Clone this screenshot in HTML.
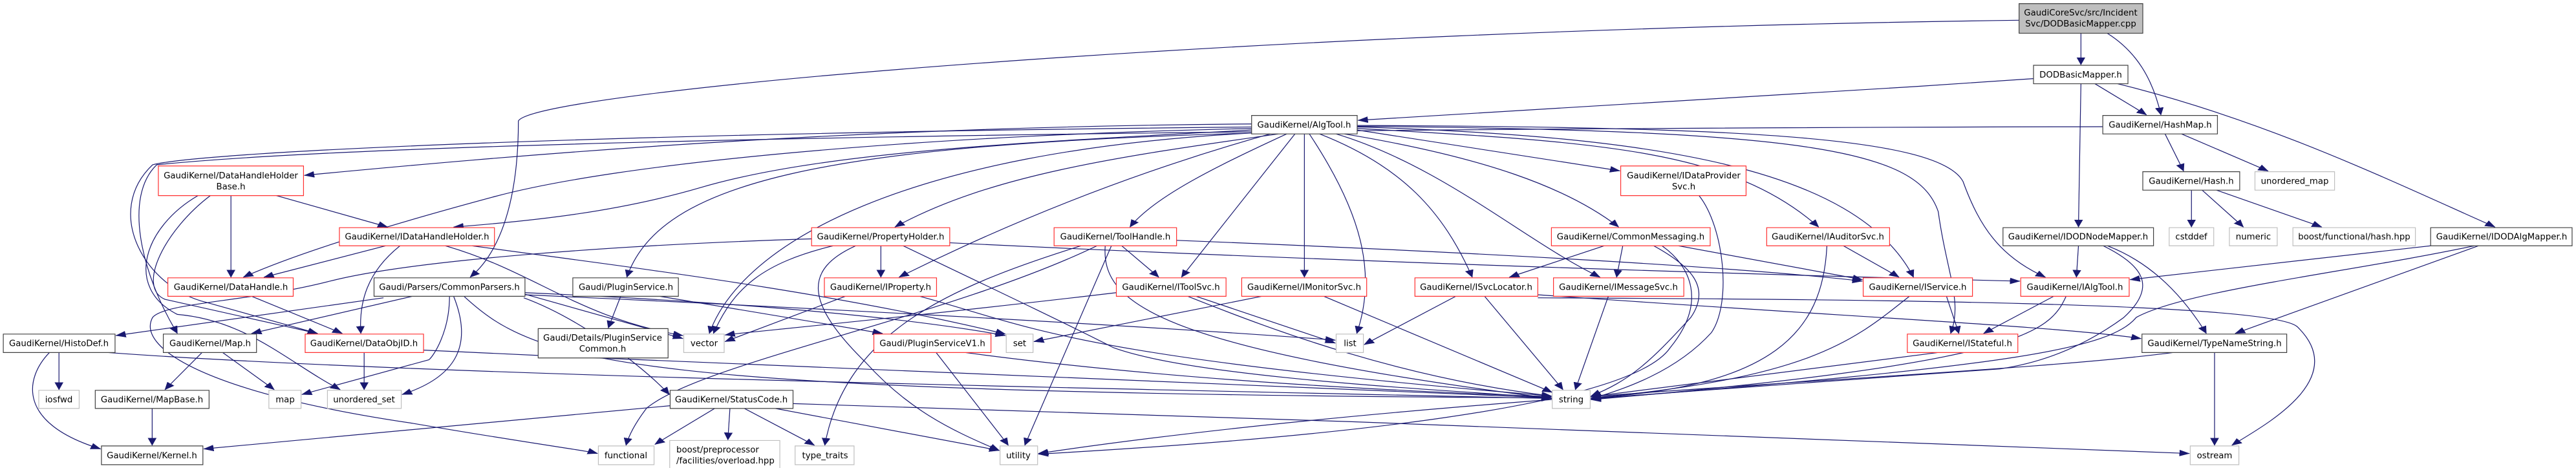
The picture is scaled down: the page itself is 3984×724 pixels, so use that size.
<!DOCTYPE html>
<html><head><meta charset="utf-8"><style>
html,body{margin:0;padding:0;background:#fff;}
svg{display:block;}
text{font-family:"DejaVu Sans","Liberation Sans",sans-serif;font-size:13.3px;fill:#000;text-anchor:middle;}
.s rect{fill:#fff;stroke-width:1.2;vector-effect:non-scaling-stroke;}
.b{stroke:#404040;} .r{stroke:#ff3030;} .g{stroke:#bfbfbf;}
.e path{fill:none;stroke:#191970;stroke-width:1.2;vector-effect:non-scaling-stroke;marker-end:url(#a);}
</style></head><body>
<svg width="3984" height="724" viewBox="0 0 3984 724" xmlns="http://www.w3.org/2000/svg">
<defs><marker id="a" markerUnits="userSpaceOnUse" markerWidth="26" markerHeight="22" refX="24" refY="11" orient="auto" viewBox="0 0 26 22"><polygon points="0,1 24,11 0,21" fill="#191970" stroke="#191970"/></marker></defs>
<g transform="scale(0.6378,0.4677)">
<g class="e">
<path d="M5046 110 L5046 214"/>
<path d="M5110 110 C5180 170 5220 260 5240 380"/>
<path d="M4896 67 C3000 100 1300 300 1257 400 C1257 700 1200 850 1140 917"/>
<path d="M4931 260 C4300 320 3600 370 3293 398"/>
<path d="M5080 277 L5205 380"/>
<path d="M5046 277 L5040 751"/>
<path d="M5135 277 C5500 400 5800 600 6050 751"/>
<path d="M5250 443 L5295 566"/>
<path d="M5290 443 L5500 566"/>
<path d="M5099 419 C3000 425 1000 460 380 545 C300 650 340 900 430 1103"/>
<path d="M5314 629 L5314 751"/>
<path d="M5340 629 L5440 751"/>
<path d="M5375 629 L5630 751"/>
<path d="M5040 813 L5035 917"/>
<path d="M5100 813 C5200 880 5230 950 5150 1050 C5050 1150 4950 1200 4850 1220 L3858 1318"/>
<path d="M5110 813 C5200 860 5280 950 5350 1103"/>
<path d="M5894 813 L5165 925"/>
<path d="M6000 813 C5700 900 5300 960 5180 1050 C5120 1150 4900 1210 3858 1320"/>
<path d="M6010 813 L5420 1103"/>
<path d="M4980 980 L4810 1103"/>
<path d="M5010 980 C4970 1100 4900 1200 3858 1322"/>
<path d="M4720 980 L4750 1103"/>
<path d="M4630 980 C4500 1120 4400 1250 3858 1316"/>
<path d="M4700 1166 L3858 1312"/>
<path d="M5370 1166 L5370 1473"/>
<path d="M5270 1166 C4800 1250 3500 1300 2518 1500"/>
<path d="M3035 410 C2000 420 1200 520 738 580"/>
<path d="M3035 430 C2500 470 2000 500 1700 620 C1500 700 1300 730 1100 751"/>
<path d="M3035 425 C2200 450 1500 540 1200 650 C900 760 700 850 590 917"/>
<path d="M3035 420 C1500 440 500 500 370 545 C250 700 350 950 500 1000 L770 1103"/>
<path d="M3035 440 C2000 480 1600 600 1520 917"/>
<path d="M3100 443 C2700 520 2400 580 2170 751"/>
<path d="M3080 443 C2800 550 2500 700 2180 917"/>
<path d="M3120 443 C2950 550 2800 650 2740 751"/>
<path d="M3140 443 L2865 917"/>
<path d="M3163 443 L3163 917"/>
<path d="M3175 443 C3300 700 3340 900 3290 1103"/>
<path d="M3200 443 C3400 550 3500 700 3570 917"/>
<path d="M3240 443 C3500 550 3700 800 3880 917"/>
<path d="M3260 443 C3600 520 3800 620 3925 751"/>
<path d="M3291 430 L3928 565"/>
<path d="M3291 425 C3900 470 4200 500 4410 751"/>
<path d="M3291 420 C4000 450 4500 550 4640 917"/>
<path d="M3291 418 C4400 430 4650 500 4700 700 C4720 900 4760 1000 4730 1103"/>
<path d="M3291 415 C4200 420 4700 450 4760 600 C4800 750 4850 850 4960 917"/>
<path d="M3035 440 C2200 500 1800 800 1720 1103"/>
<path d="M1625 1342 L494 1485"/>
<path d="M560 647 L560 917"/>
<path d="M670 647 L940 751"/>
<path d="M510 647 C400 760 330 950 400 990 L770 1103"/>
<path d="M480 647 C350 750 300 950 430 1040 C600 1060 700 1200 825 1289"/>
<path d="M935 813 L640 917"/>
<path d="M970 813 C890 900 870 1000 875 1103"/>
<path d="M1080 813 C1300 900 1400 1050 1656 1110"/>
<path d="M1145 813 C1500 880 2000 960 2438 1105"/>
<path d="M610 980 L830 1103"/>
<path d="M930 985 L281 1110"/>
<path d="M1000 980 L610 1103"/>
<path d="M1090 980 C1090 1100 1050 1180 1040 1190 L732 1305"/>
<path d="M1100 980 C1150 1150 1100 1250 975 1305"/>
<path d="M1270 972 L1656 1120"/>
<path d="M1270 985 C1400 1050 1550 1200 1623 1305"/>
<path d="M1125 980 C1300 1200 1500 1300 3762 1316"/>
<path d="M1273 968 C1800 1000 2200 1050 2438 1110"/>
<path d="M1273 975 C2000 1020 2800 1080 3238 1125"/>
<path d="M1505 980 L1475 1085"/>
<path d="M1600 980 L2140 1103"/>
<path d="M143 1166 L143 1289"/>
<path d="M120 1166 C60 1250 40 1400 244 1485"/>
<path d="M260 1166 C1000 1240 2500 1280 3762 1318"/>
<path d="M490 1166 L400 1289"/>
<path d="M540 1166 L665 1289"/>
<path d="M369 1351 L369 1473"/>
<path d="M883 1166 L883 1289"/>
<path d="M1027 1158 C2000 1220 3000 1280 3762 1316"/>
<path d="M1733 1351 L1588 1470"/>
<path d="M2136 813 L2136 917"/>
<path d="M2020 813 C1850 870 1780 950 1730 1103"/>
<path d="M2075 813 C1950 890 1950 1000 2100 1200 C2200 1350 2300 1420 2423 1490"/>
<path d="M2190 813 C2400 950 2600 1080 2700 1150 C2900 1250 3500 1290 3762 1316"/>
<path d="M2303 803 C3000 850 4000 900 4898 930"/>
<path d="M1968 790 C1500 810 1000 860 800 930 C600 1000 400 1000 370 1050 C330 1150 500 1300 1000 1400 C1300 1470 1420 1490 1449 1500"/>
<path d="M2050 980 L1758 1130"/>
<path d="M2230 980 C2500 1080 2600 1180 3762 1310"/>
<path d="M2853 795 C3500 830 4200 880 4516 930"/>
<path d="M2720 813 L2810 917"/>
<path d="M2621 813 C2300 950 2050 1100 2000 1473"/>
<path d="M2660 813 C2300 1050 1700 1200 1568 1350 C1540 1400 1525 1440 1518 1473"/>
<path d="M2695 813 L2485 1473"/>
<path d="M2680 813 C2670 1000 2800 1150 3762 1318"/>
<path d="M2707 968 C2200 1050 1800 1100 1758 1108"/>
<path d="M2880 980 C3100 1100 3400 1250 3762 1310"/>
<path d="M2900 980 L3238 1135"/>
<path d="M3060 980 L2507 1130"/>
<path d="M3210 980 L3764 1298"/>
<path d="M3530 980 L3308 1140"/>
<path d="M3600 980 L3790 1289"/>
<path d="M3729 975 C4500 1050 5000 1080 5192 1120"/>
<path d="M3900 980 L3820 1289"/>
<path d="M3890 813 L3660 917"/>
<path d="M3935 813 L3920 917"/>
<path d="M4010 813 C4100 880 4150 950 4100 1050 C4000 1200 3950 1260 3858 1310"/>
<path d="M4030 813 C4100 880 4140 1000 4050 1150 C3950 1350 3200 1450 2518 1502"/>
<path d="M4070 813 L4516 925"/>
<path d="M4120 647 C4180 750 4200 1000 4150 1100 C4050 1250 3900 1300 3858 1320"/>
<path d="M4430 813 C4420 1100 4300 1280 3858 1316"/>
<path d="M4470 813 L4605 917"/>
<path d="M3729 985 C4500 990 5500 1000 5570 1080 C5700 1250 5500 1400 5412 1473"/>
<path d="M1923 1335 C3000 1380 4500 1450 5309 1500"/>
<path d="M2270 1166 L2445 1473"/>
<path d="M2340 1166 C2800 1250 3300 1290 3762 1312"/>
<path d="M1770 1351 L1765 1455"/>
<path d="M1805 1351 L1975 1473"/>
<path d="M1880 1351 L2423 1490"/>
</g>
<g class="s">
<rect x="4896" y="12" width="300" height="98" class="b" style="fill:#bfbfbf"/>
<rect x="4931" y="216" width="229" height="61" class="b"/>
<rect x="5099" y="382" width="278" height="61" class="b"/>
<rect x="5196" y="568" width="235" height="61" class="b"/>
<rect x="5468" y="568" width="193" height="61" class="g"/>
<rect x="4857" y="753" width="365" height="60" class="b"/>
<rect x="5260" y="753" width="108" height="60" class="g"/>
<rect x="5406" y="753" width="116" height="60" class="g"/>
<rect x="5560" y="753" width="297" height="60" class="g"/>
<rect x="5894" y="753" width="343" height="60" class="b"/>
<rect x="4900" y="919" width="263" height="61" class="r"/>
<rect x="4625" y="1105" width="268" height="61" class="r"/>
<rect x="5194" y="1105" width="351" height="61" class="b"/>
<rect x="5311" y="1475" width="118" height="62" class="g"/>
<rect x="4518" y="919" width="265" height="61" class="r"/>
<rect x="3035" y="382" width="256" height="61" class="b"/>
<rect x="3930" y="549" width="304" height="98" class="r"/>
<rect x="3762" y="753" width="385" height="60" class="r"/>
<rect x="4284" y="753" width="298" height="60" class="r"/>
<rect x="3011" y="919" width="303" height="61" class="r"/>
<rect x="3431" y="919" width="298" height="61" class="r"/>
<rect x="3767" y="919" width="316" height="61" class="r"/>
<rect x="3240" y="1105" width="66" height="61" class="g"/>
<rect x="3764" y="1291" width="92" height="60" class="g"/>
<rect x="1968" y="753" width="335" height="60" class="r"/>
<rect x="2556" y="753" width="297" height="60" class="r"/>
<rect x="1999" y="919" width="272" height="61" class="r"/>
<rect x="2707" y="919" width="266" height="61" class="r"/>
<rect x="1658" y="1105" width="98" height="61" class="g"/>
<rect x="2119" y="1105" width="284" height="61" class="r"/>
<rect x="2440" y="1105" width="65" height="61" class="g"/>
<rect x="1625" y="1291" width="298" height="60" class="b"/>
<rect x="1624" y="1457" width="267" height="98" class="g"/>
<rect x="1928" y="1475" width="143" height="62" class="g"/>
<rect x="2425" y="1475" width="91" height="62" class="g"/>
<rect x="384" y="549" width="352" height="98" class="r"/>
<rect x="823" y="753" width="376" height="60" class="r"/>
<rect x="407" y="919" width="304" height="61" class="r"/>
<rect x="907" y="919" width="366" height="61" class="b"/>
<rect x="1389" y="919" width="256" height="61" class="b"/>
<rect x="8" y="1105" width="271" height="61" class="b"/>
<rect x="396" y="1105" width="226" height="61" class="b"/>
<rect x="740" y="1105" width="287" height="61" class="r"/>
<rect x="1305" y="1087" width="315" height="97" class="b"/>
<rect x="94" y="1291" width="98" height="60" class="g"/>
<rect x="231" y="1291" width="276" height="60" class="b"/>
<rect x="652" y="1291" width="78" height="60" class="g"/>
<rect x="794" y="1291" width="179" height="60" class="g"/>
<rect x="246" y="1475" width="246" height="62" class="b"/>
<rect x="1451" y="1475" width="135" height="62" class="g"/>
</g>
</g>
<text x="3218" y="24">GaudiCoreSvc/src/Incident</text>
<text x="3218" y="41">Svc/DODBasicMapper.cpp</text>
<text x="3218" y="120">DODBasicMapper.h</text>
<text x="3341" y="197.5">GaudiKernel/HashMap.h</text>
<text x="3389" y="284.5">GaudiKernel/Hash.h</text>
<text x="3549" y="284.5">unordered_map</text>
<text x="3214" y="370.5">GaudiKernel/IDODNodeMapper.h</text>
<text x="3389" y="370.5">cstddef</text>
<text x="3485" y="370.5">numeric</text>
<text x="3641" y="370.5">boost/functional/hash.hpp</text>
<text x="3869" y="370.5">GaudiKernel/IDODAlgMapper.h</text>
<text x="3209" y="448.5">GaudiKernel/IAlgTool.h</text>
<text x="2966" y="448.5">GaudiKernel/IService.h</text>
<text x="3035" y="535.5">GaudiKernel/IStateful.h</text>
<text x="3425" y="535.5">GaudiKernel/TypeNameString.h</text>
<text x="3425" y="709">ostream</text>
<text x="2017" y="197.5">GaudiKernel/AlgTool.h</text>
<text x="2604" y="276">GaudiKernel/IDataProvider</text>
<text x="2604" y="293">Svc.h</text>
<text x="2522" y="370.5">GaudiKernel/CommonMessaging.h</text>
<text x="2827" y="370.5">GaudiKernel/IAuditorSvc.h</text>
<text x="2017" y="448.5">GaudiKernel/IMonitorSvc.h</text>
<text x="2283" y="448.5">GaudiKernel/ISvcLocator.h</text>
<text x="2503" y="448.5">GaudiKernel/IMessageSvc.h</text>
<text x="2088" y="535.5">list</text>
<text x="2430" y="622.5">string</text>
<text x="1362" y="370.5">GaudiKernel/PropertyHolder.h</text>
<text x="1725" y="370.5">GaudiKernel/ToolHandle.h</text>
<text x="1362" y="448.5">GaudiKernel/IProperty.h</text>
<text x="1811" y="448.5">GaudiKernel/IToolSvc.h</text>
<text x="1089" y="535.5">vector</text>
<text x="1442" y="535.5">Gaudi/PluginServiceV1.h</text>
<text x="1577" y="535.5">set</text>
<text x="1131" y="622.5">GaudiKernel/StatusCode.h</text>
<text x="1046" y="700" style="text-anchor:start">boost/preprocessor</text>
<text x="1046" y="717" style="text-anchor:start">/facilities/overload.hpp</text>
<text x="1276" y="709">type_traits</text>
<text x="1575" y="709">utility</text>
<text x="357" y="276">GaudiKernel/DataHandleHolder</text>
<text x="357" y="293">Base.h</text>
<text x="645" y="370.5">GaudiKernel/IDataHandleHolder.h</text>
<text x="357" y="448.5">GaudiKernel/DataHandle.h</text>
<text x="695" y="448.5">Gaudi/Parsers/CommonParsers.h</text>
<text x="968" y="448.5">Gaudi/PluginService.h</text>
<text x="91" y="535.5">GaudiKernel/HistoDef.h</text>
<text x="325" y="535.5">GaudiKernel/Map.h</text>
<text x="563" y="535.5">GaudiKernel/DataObjID.h</text>
<text x="932" y="527">Gaudi/Details/PluginService</text>
<text x="932" y="544">Common.h</text>
<text x="91" y="622.5">iosfwd</text>
<text x="235" y="622.5">GaudiKernel/MapBase.h</text>
<text x="441" y="622.5">map</text>
<text x="563" y="622.5">unordered_set</text>
<text x="235" y="709">GaudiKernel/Kernel.h</text>
<text x="968" y="709">functional</text>
</svg>
</body></html>
